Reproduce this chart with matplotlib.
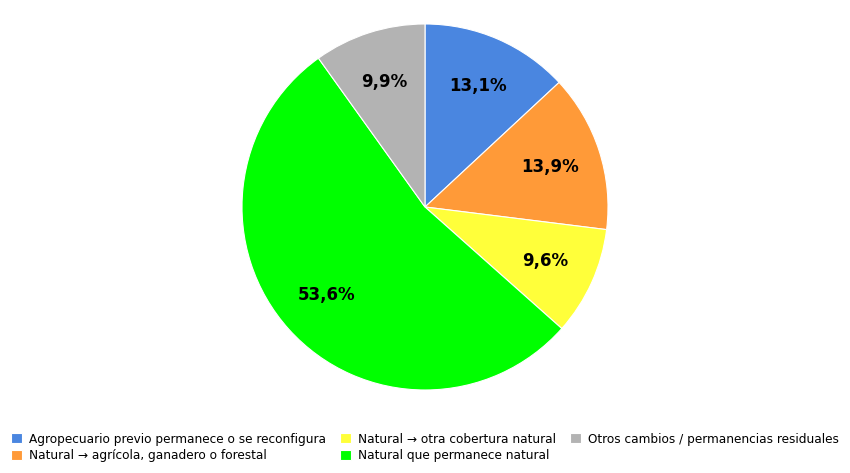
import matplotlib
matplotlib.use("Agg")
import matplotlib.pyplot as plt

categories = [
    "Agropecuario previo permanece o se reconfigura",
    "Natural \u2192 agr\u00edcola, ganadero o forestal",
    "Natural \u2192 otra cobertura natural",
    "Natural que permanece natural",
    "Otros cambios / permanencias residuales",
]
values = [13.1, 13.9, 9.6, 53.6, 9.9]
colors = ["#4a86e0", "#ff9a38", "#ffff3a", "#00ff00", "#b3b3b3"]

fig = plt.figure(figsize=(8.5, 4.73), dpi=100, facecolor="white")
ax = fig.add_axes([0.5 - 0.2153, 0.5624 - 0.387, 0.4306, 0.774])

labels_iter = iter(values)
def fmt(p):
    return f"{next(labels_iter):.1f}%".replace(".", ",")

wedges, _, autotexts = ax.pie(values, colors=colors, startangle=90, counterclock=False,
                              autopct=fmt, pctdistance=0.72,
                              wedgeprops=dict(edgecolor="white", linewidth=0.8),
                              textprops=dict(fontsize=12, fontweight="bold", color="black"))
ax.set_xlim(-1, 1)
ax.set_ylim(-1, 1)
ax.set_aspect("equal")

fig.legend(wedges, categories, loc="lower center", bbox_to_anchor=(0.5, 0.0), ncol=3,
           frameon=False, fontsize=8.7, handlelength=0.9, handleheight=0.9,
           handletextpad=0.6, columnspacing=1.15, labelspacing=0.3)

fig.savefig("out.png", dpi=100, facecolor="white")
